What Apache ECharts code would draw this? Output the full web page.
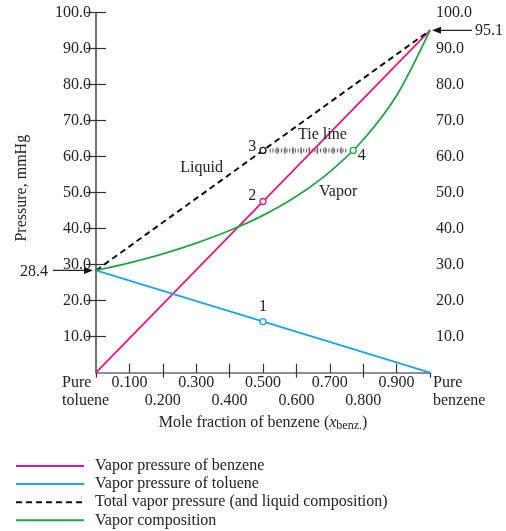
<!DOCTYPE html>
<html>
<head>
<meta charset="utf-8">
<script src="https://cdn.jsdelivr.net/npm/echarts@6/dist/echarts.min.js"></script>
<style>
  html, body { margin: 0; padding: 0; background: #fff; }
  #chart { width: 506px; height: 531px; }
</style>
</head>
<body>
<div id="chart"></div>
<script>
// Liquid composition: mole fraction of benzene (0 = pure toluene, 1 = pure benzene)
const moleFraction = [0, 1];
const benzenePressure = [0, 95.1];
const toluenePressure = [28.4, 0];
const totalPressure = [28.4, 95.1];

// Vapor composition curve (mole fraction of benzene in the vapor vs. pressure)
const vaporFraction = [0, 0.1, 0.2, 0.3, 0.4, 0.5, 0.6, 0.7, 0.8, 0.9, 1];
const vaporPressure = [28.4, 30.5, 33.0, 36.0, 39.5, 43.7, 49.0, 55.8, 64.7, 77.0, 95.1];

// Numbered states
const pointNames = ['1', '2', '3', '4'];
const pointFraction = [0.5, 0.5, 0.5, 0.77];
const pointPressure = [14.2, 47.55, 61.75, 61.75];

// Tick labels
const xTickLabels = ['', '0.100', '0.200', '0.300', '0.400', '0.500', '0.600', '0.700', '0.800', '0.900', ''];
const yTickLabels = ['', '10.0', '20.0', '30.0', '40.0', '50.0', '60.0', '70.0', '80.0', '90.0', '100.0'];

// Legend entries
const seriesNames = [
  'Vapor pressure of benzene',
  'Vapor pressure of toluene',
  'Total vapor pressure (and liquid composition)',
  'Vapor composition'
];

const FONT = 'Liberation Serif';
const INK = '#222';
const AXIS = '#6b6b6b';
const MAGENTA = '#e2197b';
const BLUE = '#1ca3e8';
const GREEN = '#22a449';

const zip = (xs, ys) => xs.map((x, i) => [x, ys[i]]);

const chart = echarts.init(document.getElementById('chart'), null, { renderer: 'canvas' });

const yAxisCommon = {
  type: 'value', min: 0, max: 100, interval: 10,
  splitLine: { show: false },
  axisLine: { show: true, lineStyle: { color: AXIS, width: 1.5 } },
  axisTick: { show: true, inside: true, length: 10, lineStyle: { color: '#333', width: 1.2 } },
  axisLabel: {
    fontFamily: FONT, fontSize: 16, color: INK, showMinLabel: false,
    formatter: (v) => yTickLabels[Math.round(v / 10)]
  }
};

const tieFrom = pointFraction[2] + 0.02;
const tieTo = pointFraction[3] - 0.02;
const tieLevel = pointPressure[2];

const pointColors = [BLUE, MAGENTA, '#111', GREEN];
const pointLabels = [
  { position: 'top', distance: 3, offset: [0, 0] },
  { position: 'left', distance: 3, offset: [0, -6] },
  { position: 'left', distance: 3, offset: [0, -4] },
  { position: 'right', distance: 1, offset: [0, 5] }
];

chart.setOption({
  animation: false,
  backgroundColor: '#fff',
  textStyle: { fontFamily: FONT },
  grid: { left: 96, right: 76, top: 12.7, bottom: 158.3 },
  legend: {
    data: seriesNames,
    orient: 'vertical',
    left: 15, top: 458, width: 480, height: 120, padding: 0,
    itemWidth: 68, itemHeight: 14, itemGap: 2.1,
    itemStyle: { opacity: 0 },
    textStyle: { fontFamily: FONT, fontSize: 16, lineHeight: 14, color: INK, padding: [0, 0, 0, 6] },
    selectedMode: false
  },
  xAxis: [
    {
      type: 'value', min: 0, max: 1, interval: 0.1,
      splitLine: { show: false },
      axisLine: { show: true, onZero: false, lineStyle: { color: AXIS, width: 1.5 } },
      axisTick: { show: true, inside: true, length: 9, lineStyle: { color: '#333', width: 1.2 } },
      axisLabel: {
        fontFamily: FONT, fontSize: 16, color: INK, margin: 1.5, lineHeight: 18,
        showMinLabel: false, showMaxLabel: false,
        formatter: (v) => {
          const i = Math.round(v * 10);
          return i % 2 === 0 ? '\n' + xTickLabels[i] : xTickLabels[i];
        }
      },
      name: '{n|Mole fraction of benzene (}{i|x}{s|benz.}{n|)}',
      nameLocation: 'middle',
      nameGap: 36,
      nameTextStyle: {
        rich: {
          n: { fontFamily: FONT, fontSize: 16, color: INK },
          i: { fontFamily: FONT, fontSize: 16, fontStyle: 'italic', color: INK },
          s: { fontFamily: FONT, fontSize: 12, color: INK, padding: [6, 0, 0, 0] }
        }
      }
    },
    {
      // long ticks at the even tenths also reach below the axis
      type: 'value', min: 0, max: 1, interval: 0.2, position: 'bottom',
      splitLine: { show: false },
      axisLine: { show: false, onZero: false },
      axisTick: { show: true, inside: false, length: 5, lineStyle: { color: '#333', width: 1.2 } },
      axisLabel: { show: false }
    }
  ],
  yAxis: [
    Object.assign({}, yAxisCommon, {
      position: 'left',
      axisLabel: Object.assign({}, yAxisCommon.axisLabel, { margin: 5 }),
      name: 'Pressure, mmHg',
      nameLocation: 'middle',
      nameGap: 66,
      nameRotate: 90,
      nameTextStyle: { fontFamily: FONT, fontSize: 16, color: INK, padding: [0, 0, 0, 9] }
    }),
    Object.assign({}, yAxisCommon, {
      position: 'right',
      axisLabel: Object.assign({}, yAxisCommon.axisLabel, { margin: 6 })
    })
  ],
  series: [
    {
      name: seriesNames[0], type: 'line', symbol: 'none',
      data: zip(moleFraction, benzenePressure),
      lineStyle: { color: MAGENTA, width: 1.8 }, itemStyle: { color: MAGENTA }, z: 3
    },
    {
      name: seriesNames[1], type: 'line', symbol: 'none',
      data: zip(moleFraction, toluenePressure),
      lineStyle: { color: BLUE, width: 1.8 }, itemStyle: { color: BLUE }, z: 3
    },
    {
      name: seriesNames[2], type: 'line', symbol: 'none',
      data: zip(moleFraction, totalPressure),
      lineStyle: { color: '#111', width: 2, type: [6, 4] }, itemStyle: { color: '#111' }, z: 3
    },
    {
      name: seriesNames[3], type: 'line', symbol: 'none', smooth: 0.3,
      data: zip(vaporFraction, vaporPressure),
      lineStyle: { color: GREEN, width: 1.8 }, itemStyle: { color: GREEN }, z: 3
    },
    {
      // tie line drawn as a hatched rule
      name: 'tie', type: 'line', symbol: 'none', silent: true,
      data: [[tieFrom, tieLevel], [tieTo, tieLevel]],
      lineStyle: { color: '#555', width: 4, type: [1, 1.8] }, z: 2
    },
    {
      name: 'tie-major', type: 'line', symbol: 'none', silent: true,
      data: [[tieFrom, tieLevel], [tieTo, tieLevel]],
      lineStyle: { color: '#555', width: 7, type: [1, 7], dashOffset: 1 }, z: 2
    },
    {
      name: 'states', type: 'scatter', symbol: 'circle', symbolSize: 6, z: 5,
      itemStyle: { opacity: 1 },
      data: pointNames.map((n, i) => ({
        value: [pointFraction[i], pointPressure[i]],
        name: n,
        itemStyle: { color: '#fff', borderColor: pointColors[i], borderWidth: 1.3, opacity: 1 },
        label: Object.assign({ show: true, formatter: n, fontFamily: FONT, fontSize: 16, color: INK, opacity: 1 }, pointLabels[i])
      }))
    },
    {
      name: 'regions', type: 'scatter', symbolSize: 0, silent: true, z: 4,
      itemStyle: { opacity: 1 },
      label: { show: true, position: 'inside', fontFamily: FONT, fontSize: 16, color: INK, opacity: 1, formatter: (p) => p.name },
      data: [
        { name: 'Liquid', value: [0.316, 56.9] },
        { name: 'Vapor', value: [0.725, 50.2] },
        { name: 'Tie line', value: [0.678, 66.0] }
      ]
    }
  ]
});

// End-member annotations and arrows, placed through the axis scales
function drawEndMarks() {
  const x0 = chart.convertToPixel({ xAxisIndex: 0 }, 0);
  const x1 = chart.convertToPixel({ xAxisIndex: 0 }, 1);
  const yTol = chart.convertToPixel({ yAxisIndex: 0 }, toluenePressure[0]);
  const yBen = chart.convertToPixel({ yAxisIndex: 0 }, benzenePressure[1]);
  const yBase = chart.convertToPixel({ yAxisIndex: 0 }, 0);
  const arrow = (tipX, y, tailX) => {
    const dir = Math.sign(tipX - tailX);
    return [
      { type: 'line', shape: { x1: tailX, y1: y, x2: tipX - dir * 6, y2: y }, style: { stroke: '#222', lineWidth: 1.2 } },
      { type: 'polygon', shape: { points: [[tipX, y], [tipX - dir * 9, y - 3.5], [tipX - dir * 9, y + 3.5]] }, style: { fill: '#111' } }
    ];
  };
  const txt = (x, y, text, align) => ({
    type: 'text', x, y,
    style: { text, fontFamily: FONT, fontSize: 16, fill: INK, align, verticalAlign: 'middle', lineHeight: 18 }
  });
  chart.setOption({
    graphic: [
      ...arrow(x0 - 3, yTol, x0 - 43),
      txt(x0 - 48, yTol + 1, toluenePressure[0].toFixed(1), 'right'),
      ...arrow(x1 + 2, yBen, x1 + 42),
      txt(x1 + 45, yBen, benzenePressure[1].toFixed(1), 'left'),
      { type: 'text', x: x0 - 34, y: yBase + 1, style: { text: 'Pure\ntoluene', fontFamily: FONT, fontSize: 16, fill: INK, align: 'left', verticalAlign: 'top', lineHeight: 18 } },
      { type: 'text', x: x1 + 3, y: yBase + 1, style: { text: 'Pure\nbenzene', fontFamily: FONT, fontSize: 16, fill: INK, align: 'left', verticalAlign: 'top', lineHeight: 18 } }
    ]
  });
}
drawEndMarks();
</script>
</body>
</html>
